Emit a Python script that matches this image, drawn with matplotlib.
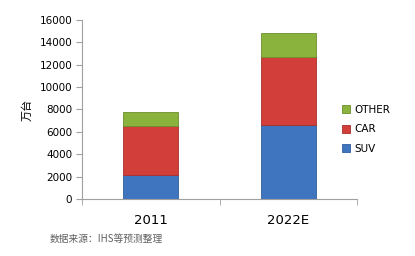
import numpy as np
import matplotlib.pyplot as plt

plt.rcParams['font.family'] = ['DejaVu Sans', 'Noto Sans CJK SC']

# data (万台)
years = ['2011', '2022E']
suv = [2100, 6600]
car = [4400, 6050]
other = [1250, 2150]

fig = plt.figure(figsize=(4.15, 2.56), dpi=100)
ax = fig.add_axes([0.1976, 0.2227, 0.6627, 0.6993])

x = np.arange(len(years))
w = 0.4
b1 = ax.bar(x, suv, w, color='#3f74bf', edgecolor='#2f5d9e', linewidth=0.6, label='SUV')
b2 = ax.bar(x, car, w, bottom=suv, color='#d23f3a', edgecolor='#a8302c', linewidth=0.6, label='CAR')
bot = np.array(suv) + np.array(car)
b3 = ax.bar(x, other, w, bottom=bot, color='#8ab33d', edgecolor='#6d8f2c', linewidth=0.6, label='OTHER')

ax.set_xlim(-0.5, 1.5)
ax.set_ylim(0, 16000)
ax.set_yticks(range(0, 16001, 2000))
ax.set_xticks(x)
ax.set_xticklabels(years, fontsize=9.5)
ax.set_xticks([-0.5, 0.5, 1.5], minor=True)
ax.tick_params(axis='x', which='major', length=0, pad=11)
ax.tick_params(axis='x', which='minor', length=4, color='#a0a0a0')
ax.tick_params(axis='y', labelsize=7.5, length=4, color='#a0a0a0', pad=3)
for s in ['top', 'right']:
    ax.spines[s].set_visible(False)
ax.spines['left'].set_color('#a0a0a0')
ax.spines['bottom'].set_color('#a0a0a0')

ax.set_ylabel('万台', family=['Noto Sans CJK SC'], fontsize=8, labelpad=5)

leg = ax.legend(handles=[b3, b2, b1], loc='center left', bbox_to_anchor=(0.91, 0.39),
                frameon=False, fontsize=7.5, handlelength=0.8, handleheight=0.8,
                handletextpad=0.4, labelspacing=0.9)

fig.text(0.12, 0.055, '数据来源：IHS等预测整理', family=['Noto Sans CJK SC', 'DejaVu Sans'],
         fontsize=7, color='#606060')

fig.savefig('out.png', dpi=100)
